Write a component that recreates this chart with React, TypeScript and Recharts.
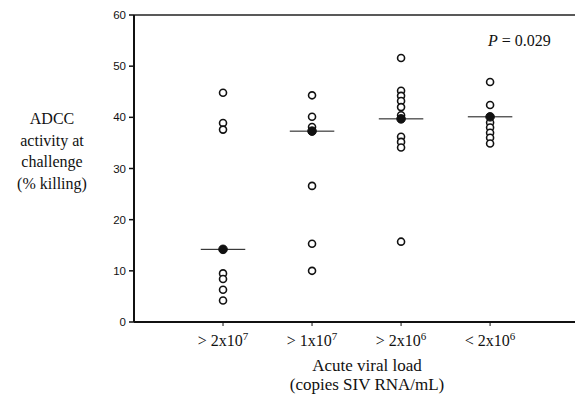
import React from "react";
import {
  ScatterChart,
  Scatter,
  XAxis,
  YAxis,
  ReferenceLine,
} from "recharts";

// viral load groups, left to right
const groups = [1, 2, 3, 4];
const groupBase = ["> 2x10", "> 1x10", "> 2x10", "< 2x10"];
const groupExp = ["7", "7", "6", "6"];

// % killing per animal
const grp1 = [44.8, 38.9, 37.6, 9.5, 8.4, 6.3, 4.2];
const grp2 = [44.3, 40.1, 38.1, 26.6, 15.3, 10.0];
const grp3 = [51.6, 45.2, 44.2, 43.2, 42.0, 40.4, 36.2, 35.2, 34.1, 15.7];
const grp4 = [46.9, 42.4, 39.0, 38.0, 37.0, 36.0, 34.9];
const medians = [14.2, 37.3, 39.7, 40.1];

const yTicks = [0, 10, 20, 30, 40, 50, 60];
const yTitle = ["ADCC", "activity at", "challenge", "(% killing)"];
const xTitle = ["Acute viral load", "(copies SIV RNA/mL)"];

const openPts = [grp1, grp2, grp3, grp4].flatMap((vals, i) =>
  vals.map((v) => ({ x: groups[i], y: v }))
);
const medianPts = medians.map((v, i) => ({ x: groups[i], y: v }));

const SERIF = "'Liberation Serif', 'Times New Roman', serif";
const SANS = "'Liberation Sans', Arial, sans-serif";
const INK = "#111";

const OpenDot = (props: any) => (
  <circle cx={props.cx} cy={props.cy} r={3.5} fill="#fff" stroke={INK} strokeWidth={1.6} />
);
const FilledDot = (props: any) => (
  <circle cx={props.cx} cy={props.cy} r={4.3} fill={INK} stroke={INK} strokeWidth={1} />
);

const XTick = (props: any) => {
  const i = groups.indexOf(props.payload.value);
  if (i < 0) return null;
  return (
    <text x={props.x} y={props.y + 18} textAnchor="middle" fontFamily={SERIF} fontSize={16} fill={INK}>
      {groupBase[i]}
      <tspan dy={-6} fontSize={11}>{groupExp[i]}</tspan>
    </text>
  );
};

export default function App() {
  // chart is a little wider than the frame so the plot runs off the right edge
  return (
    <div style={{ position: "absolute", left: 0, top: 0, width: 575, height: 399, overflow: "hidden", background: "#fff" }}>
      <ScatterChart width={580} height={399} margin={{ top: 15, right: 0, bottom: 47, left: 0 }}>
        <XAxis
          type="number"
          dataKey="x"
          domain={[0, 5.01]}
          ticks={groups}
          tick={<XTick />}
          tickSize={4}
          tickLine={{ stroke: INK, strokeWidth: 1 }}
          axisLine={{ stroke: INK, strokeWidth: 2 }}
          height={30}
        />
        <YAxis
          type="number"
          dataKey="y"
          domain={[0, 60]}
          ticks={yTicks}
          width={134}
          tickSize={5}
          tickMargin={3}
          tick={{ fontFamily: SANS, fontSize: 11.5, fill: INK }}
          tickLine={{ stroke: INK, strokeWidth: 1.5 }}
          axisLine={{ stroke: INK, strokeWidth: 2 }}
        />
        <ReferenceLine y={60} stroke="#222" strokeWidth={1.5} />
        <Scatter data={openPts} shape={<OpenDot />} isAnimationActive={false} />
        {medianPts.map((p) => (
          <ReferenceLine
            key={p.x}
            segment={[
              { x: p.x - 0.25, y: p.y },
              { x: p.x + 0.25, y: p.y },
            ]}
            stroke={INK}
            strokeWidth={1}
          />
        ))}
        <Scatter data={medianPts} shape={<FilledDot />} isAnimationActive={false} />
        <text fontFamily={SERIF} fontSize={16} fill={INK} textAnchor="middle">
          {yTitle.map((t, i) => (
            <tspan key={t} x={52} y={124 + i * 21.7}>{t}</tspan>
          ))}
        </text>
        <text fontFamily={SERIF} fontSize={17} fill={INK} textAnchor="middle">
          {xTitle.map((t, i) => (
            <tspan key={t} x={367} y={371 + i * 18.5}>{t}</tspan>
          ))}
        </text>
        <text x={488} y={46} fontFamily={SERIF} fontSize={16} fill={INK}>
          <tspan fontStyle="italic">P</tspan> = 0.029
        </text>
      </ScatterChart>
    </div>
  );
}
